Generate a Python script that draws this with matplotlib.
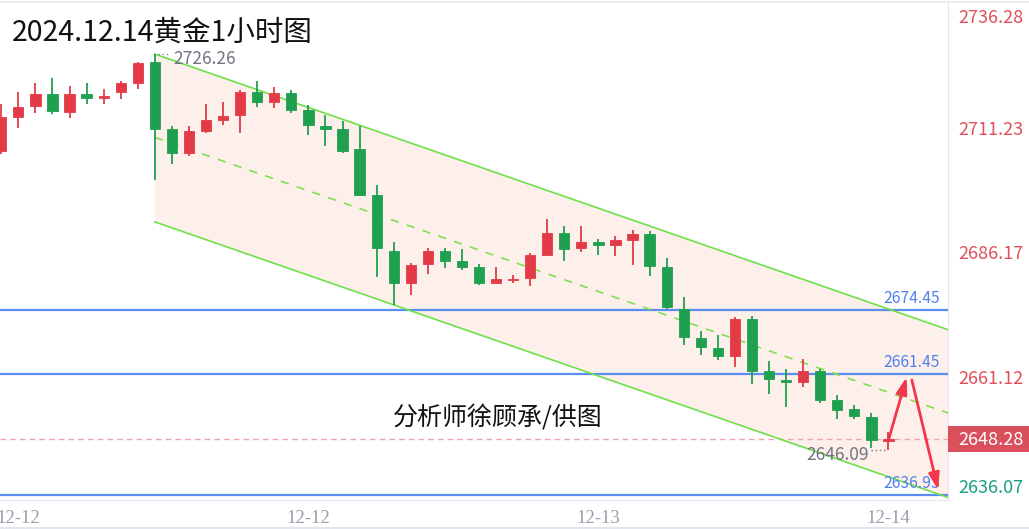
import matplotlib
matplotlib.use("Agg")
import matplotlib.pyplot as plt
import matplotlib.transforms as mtransforms
from matplotlib.patches import Rectangle, Polygon
import numpy as np

plt.rcParams['font.family'] = ['Noto Sans CJK SC', 'DejaVu Sans']

# 黄金 1小时K线: 开 高 低 收
opens = [2706.57, 2713.58, 2715.66, 2718.28, 2714.45, 2718.28, 2717.47, 2718.69, 2720.45, 2724.69,
         2711.05, 2706.24, 2710.75, 2712.91, 2713.84, 2718.69, 2716.61, 2718.36, 2714.99, 2711.62,
         2711.09, 2707.11, 2697.68, 2686.50, 2679.90, 2683.82, 2686.50, 2684.34, 2683.13, 2679.90,
         2680.51, 2680.85, 2685.66, 2690.14, 2686.91, 2688.32, 2687.52, 2688.73, 2689.88, 2683.13,
         2674.65, 2668.87, 2666.81, 2665.15, 2672.57, 2662.12, 2660.24, 2659.90, 2662.20, 2656.20,
         2654.44, 2652.83, 2648.00]
highs = [2716.20, 2718.63, 2720.45, 2721.45, 2719.84, 2720.45, 2719.23, 2720.85, 2724.69, 2726.26,
         2711.66, 2711.76, 2716.20, 2716.61, 2719.03, 2720.79, 2719.64, 2719.03, 2715.94, 2713.84,
         2712.63, 2711.62, 2699.84, 2688.26, 2684.02, 2686.91, 2687.05, 2686.77, 2683.82, 2683.21,
         2681.60, 2685.96, 2692.87, 2691.41, 2691.41, 2688.87, 2689.54, 2690.75, 2690.54, 2685.03,
         2677.07, 2670.20, 2669.47, 2673.03, 2673.23, 2664.08, 2662.61, 2664.63, 2662.61, 2657.21,
         2655.33, 2653.52, 2649.80]
lows = [2706.10, 2711.35, 2714.38, 2714.18, 2713.37, 2716.20, 2716.20, 2717.21, 2719.23, 2700.85,
        2704.08, 2705.64, 2710.20, 2711.96, 2710.20, 2715.60, 2715.33, 2714.38, 2709.88, 2707.72,
        2706.16, 2697.56, 2681.11, 2675.39, 2677.56, 2681.66, 2682.93, 2682.61, 2679.58, 2679.85,
        2679.90, 2679.29, 2685.60, 2684.48, 2686.24, 2685.64, 2685.36, 2683.62, 2681.39, 2674.58,
        2667.45, 2665.29, 2664.42, 2662.93, 2659.57, 2657.48, 2654.73, 2658.89, 2655.66, 2652.30,
        2652.30, 2646.57, 2646.09]
closes = [2713.43, 2715.60, 2718.28, 2714.65, 2718.28, 2717.47, 2717.82, 2720.45, 2724.48, 2711.15,
          2706.20, 2710.75, 2712.91, 2713.78, 2718.69, 2716.61, 2718.36, 2714.99, 2711.96, 2711.15,
          2706.71, 2697.76, 2686.91, 2679.90, 2683.48, 2686.50, 2684.48, 2683.13, 2679.90, 2680.65,
          2680.79, 2685.56, 2690.10, 2686.85, 2688.32, 2687.58, 2688.67, 2689.88, 2683.27, 2675.05,
          2668.99, 2666.91, 2665.09, 2672.57, 2662.06, 2660.51, 2659.98, 2662.20, 2656.26, 2654.18,
          2652.91, 2648.12, 2648.28]

tick_pos = [1, 18, 35, 52]
tick_labels = ['12-12', '12-12', '12-13', '12-14']
axis_values = [2736.28, 2711.23, 2686.17, 2661.12, 2636.07]
last_price = 2648.28

# 压力/支撑位
levels = [2674.45, 2661.45, 2636.93]
# 下降通道
ch_start = 9
ch_top = 2726.26
ch_mid = 2709.4
ch_bot = 2692.3
ch_slope = -1.2
# 预期走势箭头
arrow_up = [(52.03, 2648.5), (53.07, 2660.9)]
arrow_down = [(53.37, 2660.3), (54.92, 2638.0)]
high_mark = (9, 2726.26)
low_mark = (52, 2646.09)

RED = '#e33a48'
GREEN = '#1f9f50'

fig = plt.figure(figsize=(10.29, 5.29), dpi=100)
ax = fig.add_axes([0, 29 / 529, 948 / 1029, 1 - 29 / 529 - 1 / 529])
ax.set_xlim(-0.076, 55.49)
ax.set_ylim(2636.0, 2737.01)

# 通道
xe = ax.get_xlim()[1]
poly = Polygon([(ch_start, ch_top), (xe, ch_top + ch_slope * (xe - ch_start)),
                (xe, ch_bot + ch_slope * (xe - ch_start)), (ch_start, ch_bot)],
               closed=True, facecolor='#fdf0eb', edgecolor='none', zorder=0)
ax.add_patch(poly)
xs = np.array([ch_start, xe])
ax.plot(xs, ch_top + ch_slope * (xs - ch_start), color='#6ee04a', lw=1.2, zorder=3)
ax.plot(xs, ch_bot + ch_slope * (xs - ch_start), color='#6ee04a', lw=1.2, zorder=3)
ax.plot(xs, ch_mid + ch_slope * (xs - ch_start), color='#7fe050', lw=1.2,
        dashes=(5, 5), zorder=3)

# 水平线
for lv in levels:
    ax.axhline(lv, color='#5b8cf0', lw=1.6, zorder=2)
    ax.annotate(f'{lv:.2f}', xy=(55.02, lv), xytext=(0, 3), textcoords='offset pixels',
                ha='right', va='bottom', color='#4f7ff0', fontsize=11.3, zorder=6)
ax.axhline(last_price, color='#f0a3aa', lw=1.0, dashes=(4, 3), zorder=1)

# K线
x = np.arange(len(opens))
o = np.array(opens)
c = np.array(closes)
colors = [RED if cc >= oo else GREEN for oo, cc in zip(o, c)]
ax.vlines(x, lows, highs, colors=colors, lw=1.3, zorder=4)
body_lo = np.minimum(o, c)
body_h = np.maximum(np.abs(c - o), 0.3)
ax.bar(x, body_h, bottom=body_lo, width=0.6, color=colors, edgecolor=colors,
       linewidth=0.6, zorder=5)

# 最高/最低标注
ax.plot([high_mark[0] + 0.2, high_mark[0] + 0.8], [high_mark[1], high_mark[1]],
        color='#777c88', lw=1.0, ls=(0, (1, 2)), zorder=6)
ax.text(high_mark[0] + 1.06, high_mark[1] - 0.9, f'{high_mark[1]:.2f}', color='#6f7480',
        fontsize=12.5, va='center', ha='left', zorder=6)
ax.plot([low_mark[0] - 1.0, low_mark[0] - 0.15], [low_mark[1], low_mark[1]],
        color='#777c88', lw=1.0, ls=(0, (1, 2)), zorder=6)
ax.text(low_mark[0] - 1.14, low_mark[1] - 1.0, f'{low_mark[1]:.2f}', color='#6f7480',
        fontsize=12.5, va='center', ha='right', zorder=6)

# 箭头
for seg in (arrow_up, arrow_down):
    ax.annotate('', xy=seg[1], xytext=seg[0],
                arrowprops=dict(arrowstyle='-|>,head_length=1.0,head_width=0.32',
                                color='#f2374b', lw=2.0, shrinkA=0, shrinkB=0), zorder=7)

ax.text(29.1, 2652.6, '分析师徐顾承/供图', fontsize=18, color='#111111',
        ha='center', va='center', zorder=6)

# 坐标轴
ax.set_xticks(tick_pos)
ax.set_xticklabels(tick_labels, family='Liberation Serif', fontsize=13.5, color='#9b9eab')
ax.tick_params(axis='x', length=0, pad=7)
ax.set_yticks([])
for s in ['top', 'left']:
    ax.spines[s].set_visible(False)
ax.spines['bottom'].set_color('#e3e5ec')
ax.spines['right'].set_color('#e3e5ec')

trans = mtransforms.blended_transform_factory(ax.transAxes, ax.transData)
offsets = [-13, -2, -2, -3, 12]
for v, dy in zip(axis_values, offsets):
    col = '#e0505c' if v > last_price else '#18a083'
    ax.annotate(f'{v:.2f}', xy=(1, v), xycoords=trans, xytext=(10, dy),
                textcoords='offset pixels', ha='left', va='center', color=col,
                fontsize=13, annotation_clip=False)
ax.add_patch(Rectangle((1.0, last_price - 2.63), 81 / 948, 5.26, transform=trans,
                       facecolor='#d9505c', edgecolor='none', clip_on=False, zorder=8))
ax.annotate(f'{last_price:.2f}', xy=(1, last_price), xycoords=trans, xytext=(10, -1),
            textcoords='offset pixels', ha='left', va='center', color='white',
            fontsize=13, annotation_clip=False, zorder=9)

fig.text(12 / 1029, 1 - 33 / 529, '2024.12.14黄金1小时图', fontsize=20.5, color='#111111',
         va='center', ha='left')
fig.add_artist(plt.Line2D([0, 1], [1 - 1.5 / 529, 1 - 1.5 / 529], color='#eceef2', lw=1.5))
fig.add_artist(plt.Line2D([0, 1], [1.5 / 529, 1.5 / 529], color='#e3e5ec', lw=1.5))

fig.savefig('out.png', dpi=100, facecolor='white')
